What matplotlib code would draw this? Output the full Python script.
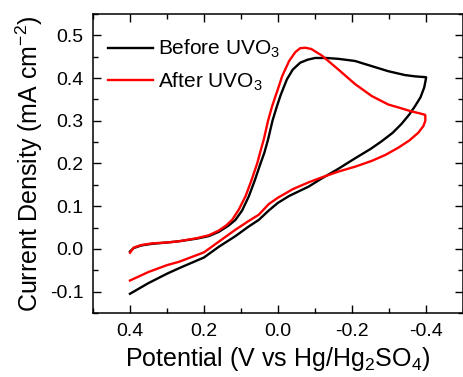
import matplotlib.pyplot as plt
from matplotlib.ticker import MultipleLocator

plt.rcParams['font.family'] = ['Liberation Sans', 'DejaVu Sans']
plt.rcParams['mathtext.fontset'] = 'custom'
plt.rcParams['mathtext.rm'] = 'Liberation Sans'
plt.rcParams['mathtext.it'] = 'Liberation Sans'
plt.rcParams['axes.unicode_minus'] = False

# Before UVO3: forward sweep (0.4 -> -0.4) then reverse sweep (-0.4 -> 0.4)
before_v = [0.40, 0.35, 0.30, 0.267, 0.20, 0.16, 0.115, 0.08, 0.052, 0.025, 0.0,
            -0.03, -0.083, -0.118, -0.16, -0.208, -0.25, -0.28, -0.31, -0.334,
            -0.355, -0.37, -0.385, -0.395, -0.40,
            -0.40, -0.37, -0.343, -0.298, -0.253, -0.208, -0.163, -0.13, -0.10,
            -0.08, -0.06, -0.04, -0.024, -0.007, 0.003, 0.015, 0.027, 0.037,
            0.047, 0.063, 0.079, 0.097, 0.115, 0.133, 0.16, 0.187, 0.22, 0.267,
            0.30, 0.34, 0.37, 0.39, 0.40]
before_j = [-0.105, -0.080, -0.058, -0.045, -0.020, 0.005, 0.030, 0.052, 0.068, 0.090, 0.108,
            0.124, 0.146, 0.165, 0.186, 0.212, 0.234, 0.252, 0.272, 0.293,
            0.315, 0.334, 0.355, 0.378, 0.400,
            0.402, 0.404, 0.407, 0.416, 0.428, 0.440, 0.445, 0.447, 0.447,
            0.443, 0.436, 0.420, 0.397, 0.360, 0.334, 0.300, 0.256, 0.225,
            0.201, 0.160, 0.123, 0.090, 0.068, 0.055, 0.040, 0.030, 0.024, 0.018,
            0.015, 0.012, 0.008, 0.002, -0.006]

# After UVO3
after_v = [0.40, 0.35, 0.30, 0.267, 0.20, 0.16, 0.115, 0.08, 0.052, 0.025, 0.0,
           -0.04, -0.083, -0.12, -0.163, -0.21, -0.253, -0.29, -0.325, -0.355,
           -0.379, -0.393, -0.398, -0.398,
           -0.397, -0.38, -0.36, -0.33, -0.298, -0.253, -0.208, -0.163, -0.118,
           -0.09, -0.074, -0.06, -0.047, -0.03, -0.011, 0.0, 0.016, 0.027, 0.038,
           0.047, 0.056, 0.072, 0.088, 0.106, 0.124, 0.14, 0.16, 0.187, 0.22,
           0.267, 0.30, 0.34, 0.37, 0.39, 0.40]
after_j = [-0.074, -0.054, -0.038, -0.030, -0.008, 0.017, 0.045, 0.065, 0.080, 0.105, 0.120,
           0.140, 0.156, 0.168, 0.181, 0.193, 0.206, 0.220, 0.237, 0.254,
           0.272, 0.288, 0.300, 0.312,
           0.314, 0.318, 0.322, 0.330, 0.338, 0.358, 0.386, 0.420, 0.453,
           0.468, 0.471, 0.470, 0.461, 0.440, 0.404, 0.375, 0.334, 0.300, 0.258,
           0.230, 0.201, 0.160, 0.123, 0.092, 0.068, 0.055, 0.043, 0.032, 0.025,
           0.018, 0.015, 0.013, 0.009, 0.003, -0.009]

xticks = [0.4, 0.2, 0.0, -0.2, -0.4]
xtick_labels = ['0.4', '0.2', '0.0', '-0.2', '-0.4']
yticks = [-0.1, 0.0, 0.1, 0.2, 0.3, 0.4, 0.5]
ytick_labels = ['-0.1', '0.0', '0.1', '0.2', '0.3', '0.4', '0.5']

fig = plt.figure(figsize=(4.64, 3.77), dpi=100)
ax = fig.add_axes([0.2004, 0.1698, 0.7976, 0.7931])

ax.plot(before_v, before_j, color='black', lw=1.7, label=r'Before UVO$_3$', solid_joinstyle='round')
ax.plot(after_v, after_j, color='#ff0000', lw=1.7, label=r'After UVO$_3$', solid_joinstyle='round')

ax.set_xlim(0.5, -0.5)
ax.set_ylim(-0.15, 0.55)
ax.xaxis.set_minor_locator(MultipleLocator(0.1))
ax.yaxis.set_minor_locator(MultipleLocator(0.05))
ax.set_xticks(xticks)
ax.set_xticklabels(xtick_labels)
ax.set_yticks(yticks)
ax.set_yticklabels(ytick_labels)

ax.tick_params(which='both', direction='in', top=True, right=True, width=1.0, labelsize=14)
ax.tick_params(which='major', length=6, pad=7)
ax.tick_params(which='minor', length=3.5)
for s in ax.spines.values():
    s.set_linewidth(1.1)

ax.set_xlabel(r'Potential (V vs Hg/Hg$_2$SO$_4$)', fontsize=18, labelpad=4)
ax.set_ylabel(r'Current Density (mA cm$^{-2}$)', fontsize=18, labelpad=3)

ax.legend(loc='upper left', bbox_to_anchor=(0.04, 0.92), borderaxespad=0, borderpad=0,
          frameon=False, fontsize=15, handlelength=2.15, handletextpad=0.25, labelspacing=0.5)

plt.savefig('out.png', dpi=100)
